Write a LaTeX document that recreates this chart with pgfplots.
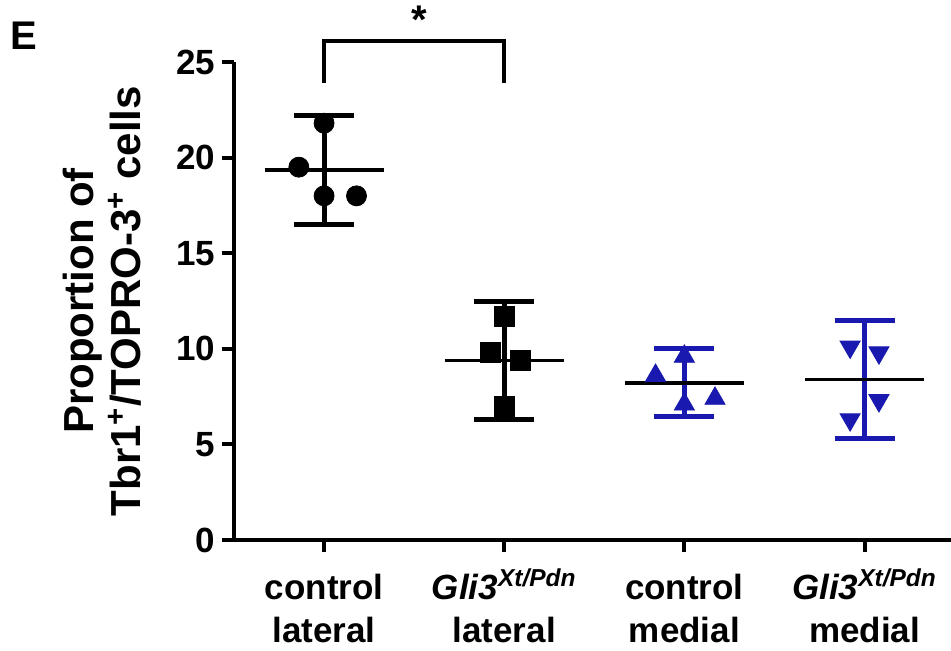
\documentclass[border=0pt]{standalone}
\usepackage{fontspec}
\setmainfont{Liberation Sans}
\usepackage{pgfplots}
\pgfplotsset{compat=1.18}
\definecolor{ptblue}{RGB}{25,25,175}
\newcommand{\gli}{\textit{Gli3}\textsuperscript{\textit{Xt/Pdn}}}

\begin{document}
\begin{tikzpicture}
\begin{axis}[
  scale only axis,
  width=358.5pt, height=239pt,
  xmin=-0.5, xmax=3.48,
  ymin=0, ymax=25,
  ytick={0,5,10,15,20,25},
  xtick={0,1,2,3},
  xticklabels={{\vphantom{\gli}control\\lateral},{\gli\\lateral},
               {\vphantom{\gli}control\\medial},{\gli\\medial}},
  axis x line=bottom, axis y line=left,
  axis line style={line width=2pt,-},
  tick style={line width=2pt,black},
  major tick length=6pt,
  tick align=outside,
  ticklabel style={font=\fontsize{17.5}{21.5}\selectfont\bfseries},
  xticklabel style={align=center,yshift=-5pt},
  /pgf/number format/assume math mode=true,
  ylabel={Proportion of\\Tbr1\textsuperscript{+}/TOPRO-3\textsuperscript{+} cells},
  ylabel style={at={([xshift=-66pt]rel axis cs:0,0.5)},anchor=center,
                align=center,font=\fontsize{21}{23.5}\selectfont\bfseries},
  clip=false,
]
% individual points
\addplot[only marks,mark=*,mark size=5pt,black] coordinates {
  (-0.14,19.5) (0,21.8) (0,18.0) (0.18,18.0)};
\addplot[only marks,mark=square*,mark size=5pt,black] coordinates {
  (1,11.7) (0.925,9.8) (1.09,9.4) (1,7.0)};
\addplot[only marks,mark=triangle*,mark size=5.8pt,ptblue] coordinates {
  (2,9.6) (1.84,8.6) (2.17,7.4) (2,7.1)};
\addplot[only marks,mark=triangle*,mark size=5.8pt,ptblue,mark options={rotate=180}] coordinates {
  (2.92,10.1) (3.08,9.8) (3.08,7.3) (2.92,6.3)};
% error bars (mean +- SD)
\addplot[draw=none,mark=none,
  error bars/.cd, y dir=both, y explicit,
  error bar style={line width=2.5pt,black},
  error mark options={rotate=90,line width=2.5pt,mark size=15pt,black}]
  coordinates {(0,19.35) +- (0,2.87) (1,9.4) +- (0,3.1)};
\addplot[draw=none,mark=none,
  error bars/.cd, y dir=both, y explicit,
  error bar style={line width=2.5pt,ptblue},
  error mark options={rotate=90,line width=2.5pt,mark size=15pt,ptblue}]
  coordinates {(2,8.23) +- (0,1.78) (3,8.4) +- (0,3.1)};
% means
\addplot[black,line width=1.75pt] coordinates {(-0.33,19.35) (0.33,19.35)};
\addplot[black,line width=1.75pt] coordinates {(0.67,9.4) (1.33,9.4)};
\addplot[black,line width=1.75pt] coordinates {(1.67,8.2) (2.33,8.2)};
\addplot[black,line width=1.75pt] coordinates {(2.67,8.4) (3.33,8.4)};
% significance bracket
\addplot[black,line width=2pt] coordinates {(0,23.9) (0,26.1) (1,26.1) (1,23.9)};
\node[anchor=south,font=\fontsize{20}{20}\selectfont\bfseries] at (axis cs:0.53,26.1) {*};
\node[font=\fontsize{20}{20}\selectfont\bfseries] at ([xshift=-105pt,yshift=252pt]rel axis cs:0,0) {E};
\coordinate (ll) at (rel axis cs:0,0);
\end{axis}
\pgfresetboundingbox
\path ([shift={(-117pt,-55pt)}]ll) rectangle ++(475.5pt,325pt);
\end{tikzpicture}
\end{document}
